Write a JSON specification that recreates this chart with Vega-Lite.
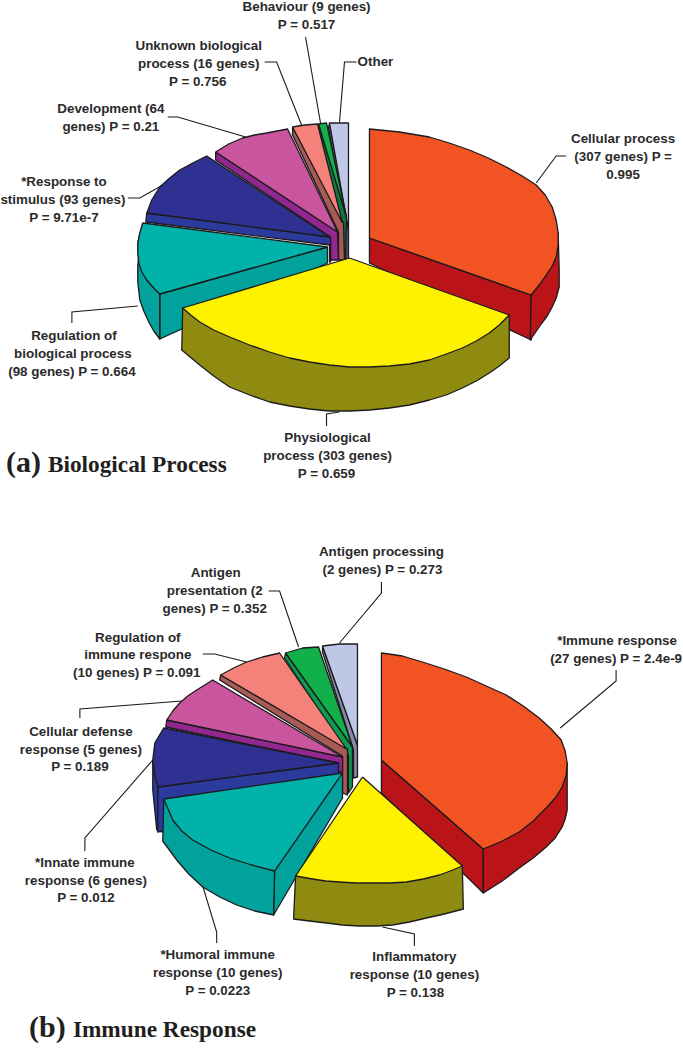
{"$schema":"https://vega.github.io/schema/vega-lite/v6.json","width":683,"height":1050,"padding":0,"autosize":{"type":"fit","contains":"padding"},"background":"white","config":{"view":{"stroke":null}},
"datasets":{
"faces":[
{"poly":"a8i","x":330,"y":123},{"poly":"a8i","x":329,"y":128},{"poly":"a8i","x":346,"y":228},{"poly":"a8i","x":346,"y":262},{"poly":"a8i","x":349,"y":262},{"poly":"a8i","x":349,"y":230},{"poly":"a8i","x":330,"y":123},
{"poly":"a8t","x":349,"y":230},{"poly":"a8t","x":330,"y":123},{"poly":"a8t","x":340,"y":123},{"poly":"a8t","x":349,"y":123},{"poly":"a8t","x":349,"y":230},
{"poly":"a7i","x":319,"y":124},{"poly":"a7i","x":318,"y":128},{"poly":"a7i","x":342,"y":225},{"poly":"a7i","x":342,"y":262},{"poly":"a7i","x":346,"y":262},{"poly":"a7i","x":347,"y":217},{"poly":"a7i","x":319,"y":124},
{"poly":"a7t","x":347,"y":217},{"poly":"a7t","x":319,"y":124},{"poly":"a7t","x":327,"y":123},{"poly":"a7t","x":347,"y":217},
{"poly":"a6i","x":293,"y":127},{"poly":"a6i","x":293,"y":135},{"poly":"a6i","x":339,"y":232},{"poly":"a6i","x":339,"y":260},{"poly":"a6i","x":345,"y":260},{"poly":"a6i","x":344,"y":223},{"poly":"a6i","x":293,"y":127},
{"poly":"a6t","x":343,"y":223},{"poly":"a6t","x":293,"y":127},{"poly":"a6t","x":305,"y":125},{"poly":"a6t","x":318,"y":124},{"poly":"a6t","x":343,"y":223},
{"poly":"a5i","x":216,"y":152},{"poly":"a5i","x":216,"y":160},{"poly":"a5i","x":331,"y":237},{"poly":"a5i","x":331,"y":260},{"poly":"a5i","x":339,"y":260},{"poly":"a5i","x":338,"y":232},{"poly":"a5i","x":216,"y":152},
{"poly":"a5t","x":338,"y":232},{"poly":"a5t","x":216,"y":152},{"poly":"a5t","x":229,"y":144},{"poly":"a5t","x":243,"y":138},{"poly":"a5t","x":255,"y":135},{"poly":"a5t","x":267,"y":133},{"poly":"a5t","x":288,"y":129},{"poly":"a5t","x":338,"y":232},
{"poly":"a4i","x":147,"y":213},{"poly":"a4i","x":146,"y":222},{"poly":"a4i","x":330,"y":245},{"poly":"a4i","x":330,"y":262},{"poly":"a4i","x":331,"y":262},{"poly":"a4i","x":331,"y":237},{"poly":"a4i","x":147,"y":213},
{"poly":"a4t","x":330,"y":237},{"poly":"a4t","x":147,"y":213},{"poly":"a4t","x":152,"y":200},{"poly":"a4t","x":160,"y":187},{"poly":"a4t","x":170,"y":178},{"poly":"a4t","x":180,"y":170},{"poly":"a4t","x":193,"y":163},{"poly":"a4t","x":207,"y":156},{"poly":"a4t","x":330,"y":237},
{"poly":"a3i","x":328,"y":247},{"poly":"a3i","x":160,"y":294},{"poly":"a3i","x":160,"y":339},{"poly":"a3i","x":328,"y":263},{"poly":"a3i","x":328,"y":247},
{"poly":"a3o","x":143,"y":223},{"poly":"a3o","x":138,"y":243},{"poly":"a3o","x":139,"y":263},{"poly":"a3o","x":147,"y":280},{"poly":"a3o","x":160,"y":294},{"poly":"a3o","x":160,"y":339},{"poly":"a3o","x":154,"y":331},{"poly":"a3o","x":149,"y":322},{"poly":"a3o","x":144,"y":311},{"poly":"a3o","x":140,"y":300},{"poly":"a3o","x":138,"y":282},{"poly":"a3o","x":138,"y":265},{"poly":"a3o","x":143,"y":223},
{"poly":"a3t","x":328,"y":247},{"poly":"a3t","x":143,"y":223},{"poly":"a3t","x":140,"y":233},{"poly":"a3t","x":138,"y":243},{"poly":"a3t","x":138,"y":253},{"poly":"a3t","x":139,"y":263},{"poly":"a3t","x":142,"y":272},{"poly":"a3t","x":147,"y":280},{"poly":"a3t","x":153,"y":287},{"poly":"a3t","x":160,"y":294},{"poly":"a3t","x":328,"y":247},
{"poly":"a1i","x":370,"y":238},{"poly":"a1i","x":532,"y":295},{"poly":"a1i","x":532,"y":340},{"poly":"a1i","x":370,"y":263},{"poly":"a1i","x":370,"y":238},
{"poly":"a1o","x":532,"y":295},{"poly":"a1o","x":547,"y":275},{"poly":"a1o","x":557,"y":257},{"poly":"a1o","x":559,"y":233},{"poly":"a1o","x":560,"y":270},{"poly":"a1o","x":560,"y":287},{"poly":"a1o","x":557,"y":298},{"poly":"a1o","x":553,"y":307},{"poly":"a1o","x":548,"y":316},{"poly":"a1o","x":542,"y":324},{"poly":"a1o","x":531,"y":340},{"poly":"a1o","x":532,"y":295},
{"poly":"a1t","x":370,"y":238},{"poly":"a1t","x":370,"y":129},{"poly":"a1t","x":400,"y":132},{"poly":"a1t","x":430,"y":137},{"poly":"a1t","x":450,"y":143},{"poly":"a1t","x":470,"y":150},{"poly":"a1t","x":489,"y":158},{"poly":"a1t","x":507,"y":167},{"poly":"a1t","x":523,"y":176},{"poly":"a1t","x":537,"y":185},{"poly":"a1t","x":546,"y":195},{"poly":"a1t","x":553,"y":207},{"poly":"a1t","x":557,"y":220},{"poly":"a1t","x":559,"y":233},{"poly":"a1t","x":559,"y":245},{"poly":"a1t","x":557,"y":257},{"poly":"a1t","x":553,"y":266},{"poly":"a1t","x":547,"y":275},{"poly":"a1t","x":540,"y":285},{"poly":"a1t","x":532,"y":295},{"poly":"a1t","x":370,"y":238},
{"poly":"a2o","x":183,"y":308},{"poly":"a2o","x":182,"y":350},{"poly":"a2o","x":200,"y":365},{"poly":"a2o","x":214,"y":376},{"poly":"a2o","x":230,"y":387},{"poly":"a2o","x":250,"y":395},{"poly":"a2o","x":270,"y":402},{"poly":"a2o","x":290,"y":406},{"poly":"a2o","x":310,"y":409},{"poly":"a2o","x":330,"y":411},{"poly":"a2o","x":350,"y":411},{"poly":"a2o","x":370,"y":410},{"poly":"a2o","x":390,"y":408},{"poly":"a2o","x":410,"y":405},{"poly":"a2o","x":430,"y":400},{"poly":"a2o","x":447,"y":395},{"poly":"a2o","x":463,"y":388},{"poly":"a2o","x":477,"y":381},{"poly":"a2o","x":490,"y":373},{"poly":"a2o","x":500,"y":366},{"poly":"a2o","x":510,"y":358},{"poly":"a2o","x":510,"y":315},{"poly":"a2o","x":183,"y":308},
{"poly":"a2t","x":350,"y":258},{"poly":"a2t","x":510,"y":315},{"poly":"a2t","x":500,"y":325},{"poly":"a2t","x":490,"y":333},{"poly":"a2t","x":477,"y":341},{"poly":"a2t","x":463,"y":348},{"poly":"a2t","x":447,"y":354},{"poly":"a2t","x":430,"y":360},{"poly":"a2t","x":410,"y":364},{"poly":"a2t","x":390,"y":366},{"poly":"a2t","x":370,"y":367},{"poly":"a2t","x":350,"y":367},{"poly":"a2t","x":330,"y":365},{"poly":"a2t","x":310,"y":362},{"poly":"a2t","x":290,"y":358},{"poly":"a2t","x":270,"y":352},{"poly":"a2t","x":250,"y":345},{"poly":"a2t","x":230,"y":337},{"poly":"a2t","x":214,"y":330},{"poly":"a2t","x":200,"y":322},{"poly":"a2t","x":191,"y":315},{"poly":"a2t","x":183,"y":308},{"poly":"a2t","x":350,"y":258},

{"poly":"b1i","x":382,"y":760},{"poly":"b1i","x":484,"y":849},{"poly":"b1i","x":484,"y":893},{"poly":"b1i","x":382,"y":793},{"poly":"b1i","x":382,"y":760},
{"poly":"b1o","x":484,"y":849},{"poly":"b1o","x":568,"y":763},{"poly":"b1o","x":568,"y":810},{"poly":"b1o","x":566,"y":819},{"poly":"b1o","x":563,"y":827},{"poly":"b1o","x":556,"y":838},{"poly":"b1o","x":547,"y":847},{"poly":"b1o","x":534,"y":858},{"poly":"b1o","x":520,"y":868},{"poly":"b1o","x":503,"y":881},{"poly":"b1o","x":484,"y":893},{"poly":"b1o","x":484,"y":849},
{"poly":"b1t","x":382,"y":760},{"poly":"b1t","x":382,"y":653},{"poly":"b1t","x":403,"y":656},{"poly":"b1t","x":423,"y":662},{"poly":"b1t","x":445,"y":669},{"poly":"b1t","x":467,"y":677},{"poly":"b1t","x":487,"y":686},{"poly":"b1t","x":507,"y":695},{"poly":"b1t","x":524,"y":706},{"poly":"b1t","x":540,"y":718},{"poly":"b1t","x":552,"y":729},{"poly":"b1t","x":562,"y":740},{"poly":"b1t","x":566,"y":751},{"poly":"b1t","x":568,"y":763},{"poly":"b1t","x":567,"y":775},{"poly":"b1t","x":563,"y":787},{"poly":"b1t","x":556,"y":798},{"poly":"b1t","x":547,"y":808},{"poly":"b1t","x":534,"y":821},{"poly":"b1t","x":520,"y":832},{"poly":"b1t","x":503,"y":841},{"poly":"b1t","x":484,"y":849},{"poly":"b1t","x":382,"y":760},
{"poly":"b8i","x":323,"y":646},{"poly":"b8i","x":323,"y":652},{"poly":"b8i","x":354,"y":750},{"poly":"b8i","x":354,"y":778},{"poly":"b8i","x":358,"y":777},{"poly":"b8i","x":358,"y":745},{"poly":"b8i","x":323,"y":646},
{"poly":"b8t","x":358,"y":745},{"poly":"b8t","x":323,"y":646},{"poly":"b8t","x":340,"y":644},{"poly":"b8t","x":358,"y":644},{"poly":"b8t","x":358,"y":745},
{"poly":"b7i","x":286,"y":653},{"poly":"b7i","x":285,"y":658},{"poly":"b7i","x":349,"y":755},{"poly":"b7i","x":349,"y":793},{"poly":"b7i","x":353,"y":787},{"poly":"b7i","x":353,"y":747},{"poly":"b7i","x":286,"y":653},
{"poly":"b7t","x":353,"y":747},{"poly":"b7t","x":286,"y":653},{"poly":"b7t","x":303,"y":648},{"poly":"b7t","x":319,"y":647},{"poly":"b7t","x":353,"y":747},
{"poly":"b6i","x":221,"y":675},{"poly":"b6i","x":220,"y":680},{"poly":"b6i","x":343,"y":756},{"poly":"b6i","x":343,"y":793},{"poly":"b6i","x":348,"y":795},{"poly":"b6i","x":348,"y":749},{"poly":"b6i","x":221,"y":675},
{"poly":"b6t","x":347,"y":749},{"poly":"b6t","x":221,"y":675},{"poly":"b6t","x":234,"y":668},{"poly":"b6t","x":247,"y":662},{"poly":"b6t","x":263,"y":657},{"poly":"b6t","x":280,"y":653},{"poly":"b6t","x":347,"y":749},
{"poly":"b5i","x":167,"y":720},{"poly":"b5i","x":166,"y":727},{"poly":"b5i","x":339,"y":763},{"poly":"b5i","x":339,"y":772},{"poly":"b5i","x":343,"y":772},{"poly":"b5i","x":343,"y":757},{"poly":"b5i","x":167,"y":720},
{"poly":"b5t","x":343,"y":757},{"poly":"b5t","x":167,"y":720},{"poly":"b5t","x":173,"y":711},{"poly":"b5t","x":180,"y":703},{"poly":"b5t","x":188,"y":696},{"poly":"b5t","x":197,"y":690},{"poly":"b5t","x":213,"y":680},{"poly":"b5t","x":343,"y":757},
{"poly":"b4o","x":153,"y":760},{"poly":"b4o","x":153,"y":790},{"poly":"b4o","x":157,"y":830},{"poly":"b4o","x":162,"y":832},{"poly":"b4o","x":158,"y":787},{"poly":"b4o","x":153,"y":760},
{"poly":"b4i","x":339,"y":763},{"poly":"b4i","x":158,"y":787},{"poly":"b4i","x":158,"y":832},{"poly":"b4i","x":339,"y":790},{"poly":"b4i","x":339,"y":763},
{"poly":"b4t","x":339,"y":763},{"poly":"b4t","x":158,"y":787},{"poly":"b4t","x":155,"y":775},{"poly":"b4t","x":153,"y":760},{"poly":"b4t","x":155,"y":743},{"poly":"b4t","x":164,"y":728},{"poly":"b4t","x":339,"y":763},
{"poly":"b3i","x":275,"y":871},{"poly":"b3i","x":274,"y":915},{"poly":"b3i","x":343,"y":798},{"poly":"b3i","x":343,"y":773},{"poly":"b3i","x":275,"y":871},
{"poly":"b3o","x":164,"y":799},{"poly":"b3o","x":163,"y":841},{"poly":"b3o","x":177,"y":860},{"poly":"b3o","x":189,"y":874},{"poly":"b3o","x":203,"y":887},{"poly":"b3o","x":220,"y":897},{"poly":"b3o","x":237,"y":905},{"poly":"b3o","x":255,"y":911},{"poly":"b3o","x":274,"y":915},{"poly":"b3o","x":275,"y":871},{"poly":"b3o","x":164,"y":799},
{"poly":"b3t","x":343,"y":773},{"poly":"b3t","x":164,"y":799},{"poly":"b3t","x":173,"y":820},{"poly":"b3t","x":182,"y":831},{"poly":"b3t","x":193,"y":840},{"poly":"b3t","x":211,"y":850},{"poly":"b3t","x":230,"y":858},{"poly":"b3t","x":252,"y":865},{"poly":"b3t","x":275,"y":871},{"poly":"b3t","x":343,"y":773},
{"poly":"b2o","x":296,"y":876},{"poly":"b2o","x":294,"y":919},{"poly":"b2o","x":310,"y":921},{"poly":"b2o","x":327,"y":923},{"poly":"b2o","x":343,"y":925},{"poly":"b2o","x":360,"y":926},{"poly":"b2o","x":377,"y":926},{"poly":"b2o","x":393,"y":925},{"poly":"b2o","x":410,"y":922},{"poly":"b2o","x":427,"y":918},{"poly":"b2o","x":445,"y":914},{"poly":"b2o","x":464,"y":909},{"poly":"b2o","x":463,"y":866},{"poly":"b2o","x":296,"y":876},
{"poly":"b2t","x":363,"y":777},{"poly":"b2t","x":463,"y":866},{"poly":"b2t","x":451,"y":871},{"poly":"b2t","x":440,"y":875},{"poly":"b2t","x":424,"y":879},{"poly":"b2t","x":407,"y":882},{"poly":"b2t","x":390,"y":883},{"poly":"b2t","x":373,"y":883},{"poly":"b2t","x":356,"y":883},{"poly":"b2t","x":340,"y":882},{"poly":"b2t","x":326,"y":881},{"poly":"b2t","x":313,"y":879},{"poly":"b2t","x":296,"y":876},{"poly":"b2t","x":363,"y":777}
],
"leaders":[
{"to":"Behaviour","x":306,"y":37},{"to":"Behaviour","x":321,"y":123},
{"to":"Unknown","x":265,"y":62},{"to":"Unknown","x":277,"y":62},{"to":"Unknown","x":302,"y":125},
{"to":"Other","x":357,"y":62},{"to":"Other","x":345,"y":62},{"to":"Other","x":340,"y":122},
{"to":"Development","x":168,"y":117},{"to":"Development","x":178,"y":117},{"to":"Development","x":246,"y":137},
{"to":"Stimulus","x":128,"y":198},{"to":"Stimulus","x":140,"y":198},{"to":"Stimulus","x":163,"y":185},
{"to":"Cellular","x":567,"y":156},{"to":"Cellular","x":557,"y":156},{"to":"Cellular","x":537,"y":183},
{"to":"Regulation","x":138,"y":306},{"to":"Regulation","x":72,"y":312},{"to":"Regulation","x":72,"y":323},
{"to":"Physiological","x":340,"y":412},{"to":"Physiological","x":327,"y":414},{"to":"Physiological","x":327,"y":426},
{"to":"Presentation","x":269,"y":591},{"to":"Presentation","x":280,"y":591},{"to":"Presentation","x":299,"y":647},
{"to":"Processing","x":382,"y":582},{"to":"Processing","x":382,"y":593},{"to":"Processing","x":340,"y":643},
{"to":"ImmuneReg","x":203,"y":654},{"to":"ImmuneReg","x":215,"y":654},{"to":"ImmuneReg","x":247,"y":662},
{"to":"Defense","x":80,"y":718},{"to":"Defense","x":80,"y":709},{"to":"Defense","x":182,"y":701},
{"to":"Innate","x":85,"y":851},{"to":"Innate","x":85,"y":838},{"to":"Innate","x":153,"y":760},
{"to":"Humoral","x":217,"y":943},{"to":"Humoral","x":217,"y":932},{"to":"Humoral","x":203,"y":886},
{"to":"Inflammatory","x":415,"y":946},{"to":"Inflammatory","x":415,"y":934},{"to":"Inflammatory","x":383,"y":927},
{"to":"Immune","x":617,"y":670},{"to":"Immune","x":617,"y":681},{"to":"Immune","x":561,"y":728}
],
"labels":[
{"text":"Behaviour (9 genes)","x":307,"y":7},{"text":"P = 0.517","x":307,"y":25},
{"text":"Unknown biological","x":199,"y":46},{"text":"process (16 genes)","x":199,"y":64},{"text":"P = 0.756","x":198,"y":82},
{"text":"Other","x":376,"y":62},
{"text":"Development (64","x":111,"y":109},{"text":"genes) P = 0.21","x":111,"y":127},
{"text":"*Response to","x":64,"y":182},{"text":"stimulus (93 genes)","x":63,"y":200},{"text":"P = 9.71e-7","x":64,"y":218},
{"text":"Cellular process","x":624,"y":139},{"text":"(307 genes) P =","x":624,"y":157},{"text":"0.995","x":624,"y":175},
{"text":"Regulation of","x":74,"y":336},{"text":"biological process","x":73,"y":354},{"text":"(98 genes) P = 0.664","x":72,"y":372},
{"text":"Physiological","x":328,"y":438},{"text":"process (303 genes)","x":328,"y":456},{"text":"P = 0.659","x":327,"y":474},
{"text":"Antigen processing","x":382,"y":552},{"text":"(2 genes) P = 0.273","x":383,"y":570},
{"text":"Antigen","x":216,"y":573},{"text":"presentation (2","x":215,"y":591},{"text":"genes) P = 0.352","x":215,"y":609},
{"text":"Regulation of","x":138,"y":638},{"text":"immune respone","x":138,"y":655},{"text":"(10 genes) P = 0.091","x":137,"y":673},
{"text":"Cellular defense","x":81,"y":732},{"text":"response (5 genes)","x":81,"y":750},{"text":"P = 0.189","x":80,"y":767},
{"text":"*Innate immune","x":85,"y":863},{"text":"response (6 genes)","x":86,"y":881},{"text":"P = 0.012","x":86,"y":898},
{"text":"*Humoral immune","x":218,"y":955},{"text":"response (10 genes)","x":218,"y":973},{"text":"P = 0.0223","x":218,"y":991},
{"text":"Inflammatory","x":415,"y":957},{"text":"response (10 genes)","x":415,"y":975},{"text":"P = 0.138","x":416,"y":993},
{"text":"*Immune response","x":618,"y":641},{"text":"(27 genes) P = 2.4e-9","x":617,"y":659}
],
"letters":[{"text":"(a)","x":6,"y":472},{"text":"(b)","x":29,"y":1037}],
"heads":[{"text":"Biological Process","x":48,"y":472},{"text":"Immune Response","x":73,"y":1037}]
},
"encoding":{
"x":{"field":"x","type":"quantitative","axis":null,"scale":{"domain":[0,683],"nice":false,"zero":false}},
"y":{"field":"y","type":"quantitative","axis":null,"scale":{"domain":[1050,0],"nice":false,"zero":false}}
},
"layer":[
{"data":{"name":"faces"},"transform":[{"window":[{"op":"row_number","as":"seq"}]}],"mark":{"type":"line","stroke":"#1c1a1c","strokeWidth":1.3,"strokeJoin":"round"},
"encoding":{"order":{"field":"seq","type":"quantitative"},"fill":{"field":"poly","type":"nominal","legend":null,"sort":null,"scale":{
"domain":["a1i","a1o","a1t","a2o","a2t","a3i","a3o","a3t","a4i","a4t","a5i","a5t","a6i","a6t","a7i","a7t","a8i","a8t","b1i","b1o","b1t","b2o","b2t","b3i","b3o","b3t","b4i","b4o","b4t","b5i","b5t","b6i","b6t","b7i","b7t","b8i","b8t"],
"range":["#BA1419","#BA1419","#F15323","#8F8B10","#FFF200","#00A29B","#00A29B","#00B2A9","#2C3A9E","#2E3192","#92278F","#C9559F","#A85A55","#F4827B","#0A7A40","#12B04A","#5A5F80","#BEC8E6","#BA1419","#BA1419","#F15323","#8F8B10","#FFF200","#00A29B","#00A29B","#00B2A9","#2C3A9E","#2C3A9E","#2E3192","#92278F","#C9559F","#A85A55","#F4827B","#0A9A50","#12B04A","#8389A8","#BEC8E6"]}}}},
{"data":{"name":"leaders"},"transform":[{"window":[{"op":"row_number","as":"seq"}]}],"mark":{"type":"line","stroke":"#1c1a1c","strokeWidth":1.1},"encoding":{"order":{"field":"seq","type":"quantitative"},"detail":{"field":"to","type":"nominal"}}},
{"data":{"name":"labels"},"mark":{"type":"text","font":"Liberation Sans","fontWeight":"bold","fontSize":13.4,"align":"center","baseline":"middle","fill":"#2b2a2b"},"encoding":{"text":{"field":"text","type":"nominal"}}},
{"data":{"name":"letters"},"mark":{"type":"text","font":"Liberation Serif","fontWeight":"bold","fontSize":30,"align":"left","baseline":"alphabetic","fill":"#231f20"},"encoding":{"text":{"field":"text","type":"nominal"}}},
{"data":{"name":"heads"},"mark":{"type":"text","font":"Liberation Serif","fontWeight":"bold","fontSize":23.3,"align":"left","baseline":"alphabetic","fill":"#231f20"},"encoding":{"text":{"field":"text","type":"nominal"}}}
]}
